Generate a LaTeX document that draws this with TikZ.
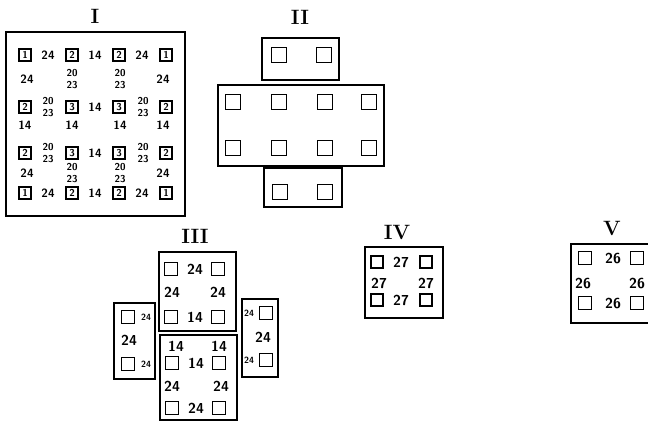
\documentclass[tikz,border=0pt]{standalone}
\usepackage{tikz}
\usetikzlibrary{positioning}
\tikzset{
  frame/.style={draw,line width=1.1pt},
  cell/.style={draw,line width=1.1pt,minimum size=12pt,inner sep=0pt,font=\normalsize\sffamily\bfseries},
  sq/.style={draw,line width=1.1pt,minimum size=#1,inner sep=0pt},
  num/.style={font=\Large\sffamily\bfseries,inner sep=0pt},
  numI/.style={font=\large\sffamily\bfseries,inner sep=0pt},
  tiny24/.style={font=\small\sffamily\bfseries,inner sep=0pt},
  frac/.style={font=\normalsize\sffamily\bfseries,align=center,inner sep=0pt},
  title/.style={font=\huge\bfseries,inner sep=0pt}
}
\begin{document}
\begin{tikzpicture}[x=1pt,y=-1pt]
\clip (0,0) rectangle (648,423);
% panel I
\node[title] (tI) at (95,16) {I};
\draw[frame] (6,32) rectangle (185,216);
\foreach \yy [count=\ri] in {55,107,153,193}{
  \foreach \xx [count=\ci] in {25,72,119,166}{
    \pgfmathtruncatemacro{\v}{1+(\ri==2||\ri==3)+(\ci==2||\ci==3)}
    \node[cell] (c\ri\ci) at (\xx,\yy) {\v};
  }
}
\foreach \yy in {55,193}{
  \node[numI] (h1\yy) at (48,\yy) {24};
  \node[numI] (h2\yy) at (95,\yy) {14};
  \node[numI] (h3\yy) at (142,\yy) {24};
}
\foreach \yy in {107,153}{
  \node[frac] (h1\yy) at (48,\yy) {20\\23};
  \node[numI] (h2\yy) at (95,\yy) {14};
  \node[frac] (h3\yy) at (143,\yy) {20\\23};
}
\foreach \yy in {79,173}{
  \node[numI] (v1\yy) at (27,\yy) {24};
  \node[frac] (v2\yy) at (72,\yy) {20\\23};
  \node[frac] (v3\yy) at (120,\yy) {20\\23};
  \node[numI] (v4\yy) at (163,\yy) {24};
}
\foreach \xx in {25,72,120,163}
  \node[numI] (m\xx) at (\xx,125) {14};

% panel II
\node[title] (tII) at (300,17) {II};
\draw[frame] (262,38) rectangle (339,80);
\draw[frame] (218,85) rectangle (384,166);
\draw[frame] (264,168) rectangle (342,207);
\foreach \xx in {279,324}{
  \node[sq=15pt] (up\xx) at (\xx,55) {};
  \node[sq=15pt] (dn\xx) at (\xx+1,192) {};
}
\foreach \xx in {233,279,325,369}{
  \node[sq=15pt] (r1\xx) at (\xx,102) {};
  \node[sq=15pt] (r2\xx) at (\xx,148) {};
}

% panel III
\node[title] (tIII) at (195,236) {III};
\draw[frame] (159,252) rectangle (236,331);
\draw[frame] (160,335) rectangle (237,420);
\draw[frame] (114,303) rectangle (155,379);
\draw[frame] (242,299) rectangle (278,377);
\foreach \xx in {171,218}{
  \node[sq=13pt] (a\xx) at (\xx,269) {};
  \node[sq=13pt] (b\xx) at (\xx,317) {};
  \node[sq=13pt] (c\xx) at (\xx+1,363) {};
  \node[sq=13pt] (d\xx) at (\xx+1,408) {};
}
\node[num] (n1) at (195,269) {24};
\node[num] (n2) at (172,292) {24};
\node[num] (n3) at (218,292) {24};
\node[num] (n4) at (195,317) {14};
\node[num] (n5) at (176,346) {14};
\node[num] (n6) at (219,346) {14};
\node[num] (n7) at (196,363) {14};
\node[num] (n8) at (172,386) {24};
\node[num] (n9) at (221,386) {24};
\node[num] (n10) at (196,408) {24};
\node[sq=13pt] (lq1) at (128,317) {};
\node[sq=13pt] (lq2) at (128,364) {};
\node[tiny24] (l1) at (146,317) {24};
\node[tiny24] (l2) at (146,364) {24};
\node[num] (l3) at (129,340) {24};
\node[sq=13pt] (rq1) at (266,313) {};
\node[sq=13pt] (rq2) at (266,360) {};
\node[tiny24] (r1) at (249,313) {24};
\node[tiny24] (r2) at (249,360) {24};
\node[num] (r3) at (263,337) {24};

% panel IV
\node[title] (tIV) at (397,232) {IV};
\draw[frame] (365,247) rectangle (443,318);
\foreach \xx in {377,426}{
  \node[sq=12pt] (p\xx) at (\xx,262) {};
  \node[sq=12pt] (q\xx) at (\xx,300) {};
}
\node[num] (s1) at (401,262) {27};
\node[num] (s2) at (379,283) {27};
\node[num] (s3) at (426,283) {27};
\node[num] (s4) at (401,300) {27};

% panel V
\node[title] (tV) at (612,228) {V};
\draw[frame] (571,244) rectangle (652,323);
\foreach \xx in {585,637}{
  \node[sq=13pt] (e\xx) at (\xx,258) {};
  \node[sq=13pt] (f\xx) at (\xx,303) {};
}
\node[num] (w1) at (613,258) {26};
\node[num] (w2) at (583,283) {26};
\node[num] (w3) at (637,283) {26};
\node[num] (w4) at (613,303) {26};
\end{tikzpicture}
\end{document}
